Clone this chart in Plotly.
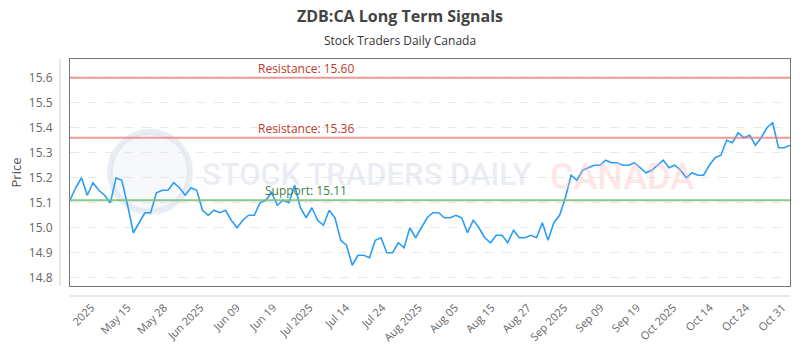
import numpy as np
import pandas as pd
import plotly.graph_objects as go

# ---- data ----
holidays = ["2025-05-19", "2025-07-01", "2025-08-04", "2025-09-01", "2025-10-13"]
dates = [d.strftime("%Y-%m-%d") for d in pd.bdate_range("2025-05-02", "2025-10-31")
         if d.strftime("%Y-%m-%d") not in holidays]

prices = [
    15.11, 15.16, 15.20, 15.13, 15.18, 15.15, 15.13, 15.10, 15.20, 15.19,
    15.09, 14.98, 15.02, 15.06, 15.06, 15.14, 15.15, 15.15, 15.18, 15.16,
    15.13, 15.16, 15.15, 15.07, 15.05, 15.07, 15.06, 15.07, 15.03, 15.00,
    15.03, 15.05, 15.05, 15.10, 15.11, 15.14, 15.09, 15.11, 15.10, 15.17,
    15.08, 15.04, 15.08, 15.03, 15.01, 15.07, 15.04, 14.95, 14.93, 14.85,
    14.89, 14.89, 14.88, 14.95, 14.96, 14.90, 14.90, 14.94, 14.92, 15.00,
    14.96, 15.00, 15.04, 15.06, 15.06, 15.04, 15.04, 15.05, 15.04, 14.98,
    15.03, 15.00, 14.96, 14.94, 14.97, 14.97, 14.94, 14.99, 14.96, 14.96,
    14.97, 14.96, 15.02, 14.95, 15.02, 15.05, 15.12, 15.21, 15.19, 15.23,
    15.24, 15.25, 15.25, 15.27, 15.26, 15.26, 15.25, 15.25, 15.26, 15.24,
    15.22, 15.23, 15.25, 15.27, 15.24, 15.25, 15.23, 15.20, 15.22, 15.21,
    15.21, 15.25, 15.28, 15.29, 15.35, 15.34, 15.38, 15.36, 15.37, 15.33,
    15.36, 15.40, 15.42, 15.32, 15.32, 15.33,
]

resistance_levels = [15.60, 15.36]
support_levels = [15.11]

tick_labels = ["2025", "May 15", "May 28", "Jun 2025", "Jun 09", "Jun 19", "Jul 2025",
               "Jul 14", "Jul 24", "Aug 2025", "Aug 05", "Aug 15", "Aug 27", "Sep 2025",
               "Sep 09", "Sep 19", "Oct 2025", "Oct 14", "Oct 24", "Oct 31"]

FONT = "Open Sans"
PW, PH = 720.0, 227.0  # plot area size in px (for paper-coordinate conversion)

fig = go.Figure()
fig.add_trace(go.Scatter(
    x=dates, y=prices, mode="lines",
    line=dict(color="#2a9df4", width=1.6),
    hoverinfo="x+y", showlegend=False,
))

shapes = []
annotations = []
for lvl in resistance_levels:
    shapes.append(dict(type="line", xref="x domain", yref="y", x0=0, x1=1, y0=lvl, y1=lvl,
                       line=dict(color="rgba(235,120,120,0.75)", width=2)))
    annotations.append(dict(xref="x domain", yref="y", x=0.328, y=lvl, xanchor="center",
                            yanchor="bottom", text=f"Resistance: {lvl:.2f}", showarrow=False,
                            yshift=-1, font=dict(family=FONT, size=12, color="#c0392b")))
for lvl in support_levels:
    shapes.append(dict(type="line", xref="x domain", yref="y", x0=0, x1=1, y0=lvl, y1=lvl,
                       line=dict(color="rgba(120,190,120,0.85)", width=2)))
    annotations.append(dict(xref="x domain", yref="y", x=0.328, y=lvl, xanchor="center",
                            yanchor="bottom", text=f"Support: {lvl:.2f}", showarrow=False,
                            yshift=-1, font=dict(family=FONT, size=12, color="#3d7f3d")))

# offset axis lines (light gray)
shapes.append(dict(type="line", xref="paper", yref="paper", x0=-10/PW, x1=-10/PW, y0=0, y1=1,
                   line=dict(color="#cfcfcf", width=1)))
shapes.append(dict(type="line", xref="paper", yref="paper", x0=0, x1=1, y0=-10/PH, y1=-10/PH,
                   line=dict(color="#cfcfcf", width=1)))

# watermark
shapes.append(dict(type="circle", xref="paper", yref="paper", layer="below",
                   x0=(110-70)/PW, x1=(190-70)/PW, y0=(286-212)/PH, y1=(286-132)/PH,
                   line=dict(color="rgba(215,222,235,0.55)", width=6),
                   fillcolor="rgba(228,232,242,0.3)"))
annotations.append(dict(xref="paper", yref="paper", x=(366-70)/PW, y=(286-174)/PH,
                        xanchor="center", yanchor="middle",
                        text="STOCK TRADERS DAILY", showarrow=False,
                        font=dict(family="Roboto", size=31, weight=500,
                                  color="rgba(200,208,225,0.38)")))
annotations.append(dict(xref="paper", yref="paper", x=(622-70)/PW, y=(286-177)/PH,
                        xanchor="center", yanchor="middle",
                        text="CANADA", showarrow=False,
                        font=dict(family="Roboto", size=36, weight=500,
                                  color="rgba(255,190,190,0.38)")))

# subtitle
annotations.append(dict(xref="paper", yref="paper", x=(400-70)/PW, y=(286-40)/PH,
                        xanchor="center", yanchor="middle",
                        text="Stock Traders Daily Canada", showarrow=False,
                        font=dict(family=FONT, size=12, color="#333")))

n = len(dates)
tickpos = list(np.linspace(3.7, n - 2.3, len(tick_labels)))

fig.update_layout(
    width=800, height=350,
    margin=dict(l=70, r=10, t=59, b=64),
    paper_bgcolor="white", plot_bgcolor="white",
    font=dict(family=FONT, color="#666"),
    title=dict(text="<b>ZDB:CA Long Term Signals</b>", x=0.5, xref="container",
               y=1 - 16/350, yref="container", yanchor="middle",
               font=dict(family=FONT, size=16, color="#444")),
    shapes=shapes, annotations=annotations,
    xaxis=dict(type="category", range=[0, n - 1], tickmode="array", tickvals=tickpos,
               ticktext=tick_labels, tickangle=-45, showgrid=False, zeroline=False,
               showline=True, mirror=True, linecolor="#777", linewidth=1, automargin=False,
               ticks="", ticklabelstandoff=10, tickfont=dict(size=11, color="#666")),
    yaxis=dict(range=[14.767, 15.675], dtick=0.1, tick0=14.8, tickformat=".1f",
               showgrid=True, gridcolor="#e8e8e8", griddash="dash", zeroline=False,
               showline=True, mirror=True, linecolor="#777", linewidth=1, automargin=False,
               ticks="", ticklabelstandoff=14, tickfont=dict(size=12, color="#666"),
               title=dict(text="Price", font=dict(size=13, color="#555"), standoff=4)),
)

fig.write_html("out.html")
